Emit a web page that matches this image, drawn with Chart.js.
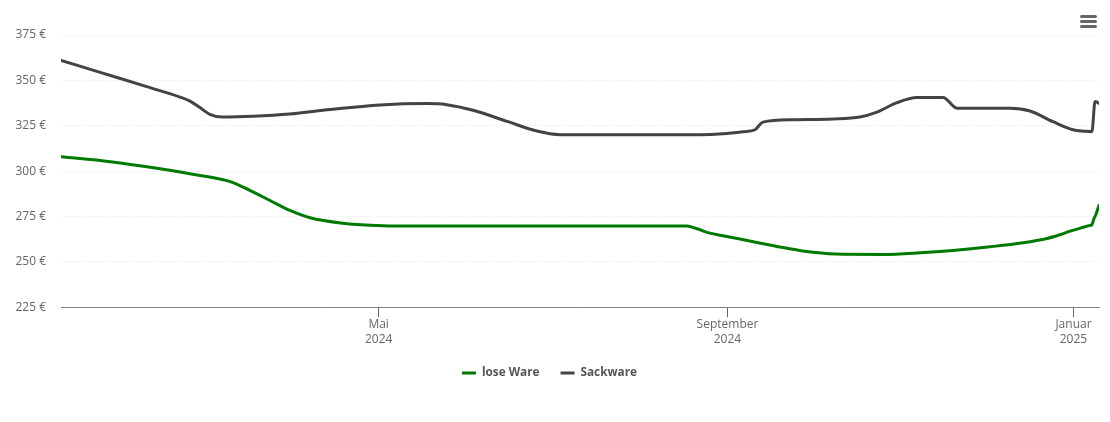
<!DOCTYPE html>
<html>
<head>
<meta charset="utf-8">
<script src="https://cdn.jsdelivr.net/npm/chart.js@4"></script>
<style>
html, body { margin: 0; padding: 0; background: #fff; }
#wrap { width: 1110px; height: 422px; position: relative; }
</style>
</head>
<body>
<div id="wrap"><canvas id="chart"></canvas></div>
<script>
// days counted from 10 Jan 2024
const looseDays = [0, 17.3, 34.9, 49, 59.6, 66.6, 73.7, 80.7, 87.8, 99.4, 111.4, 119.5, 214.7, 220.7, 224.3, 228.8, 233.4, 245.4, 256, 265.2, 275.7, 289.8, 302.9, 314.5, 327.6, 339.2, 347.7, 351.9, 355.8, 359.7, 363.1, 363.5, 364.2, 364.9, 366];
const looseValues = [307.9, 305.2, 301.3, 297.6, 294.2, 289.4, 283.8, 278.3, 274.3, 271.3, 270, 269.7, 269.7, 269.7, 268.2, 265.8, 264.4, 260.7, 257.5, 255.3, 254.2, 254.1, 255, 256.3, 258.3, 260.5, 262.9, 264.8, 266.9, 268.7, 270.2, 270.4, 273.7, 276.1, 281.1];
const sackDays = [0, 13.8, 31.4, 42, 45.5, 49, 52.5, 56.8, 67.7, 80.7, 94.9, 112.5, 129, 136, 145.3, 157.3, 167.8, 176, 190, 225.3, 233.4, 240.5, 244.7, 247.5, 258.1, 272.2, 281.7, 287.7, 294.8, 301.8, 311, 315.9, 334.6, 341.7, 349.8, 356.8, 361, 363.5, 364.6, 366];
const sackValues = [361, 354.4, 346, 340.8, 338.6, 335, 331.3, 329.8, 330.2, 331.4, 333.9, 336.4, 337.2, 336.6, 333.5, 327.4, 322.1, 320.1, 320, 320.1, 320.6, 321.7, 322.8, 327, 328.3, 328.7, 329.8, 332.5, 337.7, 340.5, 340.6, 334.7, 334.6, 333.1, 327.2, 322.8, 322, 321.7, 338.4, 337.3];
const xTickDays = [112, 235, 357];
const xTickLabels = [['Mai', '2024'], ['September', '2024'], ['Januar', '2025']];

const toPoints = (days, values) => days.map((d, i) => ({ x: d, y: values[i] }));

// burger menu top right
const menuIcon = {
    id: 'menuIcon',
    afterDraw(chart) {
        const c = chart.ctx;
        c.save();
        c.strokeStyle = '#666';
        c.lineWidth = 3;
        c.lineCap = 'round';
        [16.5, 21.5, 26.5].forEach(y => {
            c.beginPath();
            c.moveTo(1081.5, y);
            c.lineTo(1095.5, y);
            c.stroke();
        });
        c.restore();
    }
};

Chart.defaults.font.family = '"Open Sans", sans-serif';
Chart.defaults.font.size = 12;

new Chart(document.getElementById('chart'), {
    type: 'line',
    data: {
        datasets: [
            { label: 'lose Ware', data: toPoints(looseDays, looseValues), borderColor: '#007a00', backgroundColor: '#007a00', borderWidth: 3, borderCapStyle: 'round' },
            { label: 'Sackware', data: toPoints(sackDays, sackValues), borderColor: '#434343', backgroundColor: '#434343', borderWidth: 3, borderCapStyle: 'round' }
        ]
    },
    plugins: [menuIcon],
    options: {
        responsive: true,
        maintainAspectRatio: false,
        animation: false,
        elements: { point: { radius: 0 }, line: { cubicInterpolationMode: 'monotone' } },
        layout: { padding: { top: 35, right: 11, bottom: 33 } },
        scales: {
            x: {
                type: 'linear',
                min: 0,
                max: 366,
                afterBuildTicks: axis => { axis.ticks = xTickDays.map(v => ({ value: v })); },
                afterFit: axis => { axis.height = 39; },
                border: { color: '#808080', width: 1 },
                grid: { drawOnChartArea: false, tickLength: 10, tickColor: '#666', tickWidth: 1 },
                ticks: {
                    color: '#666',
                    maxRotation: 0,
                    padding: 0,
                    font: { size: 12, lineHeight: 1.25 },
                    callback: value => xTickLabels[xTickDays.indexOf(value)]
                }
            },
            y: {
                min: 225,
                max: 375,
                afterFit: axis => { axis.width = 61; },
                border: { display: false, dash: [1, 2] },
                grid: { color: '#e6e6e6', drawTicks: false },
                ticks: {
                    stepSize: 25,
                    color: '#666',
                    padding: 15,
                    font: { size: 12 },
                    callback: value => value + ' €'
                }
            }
        },
        plugins: {
            tooltip: { enabled: false },
            legend: {
                position: 'bottom',
                labels: { usePointStyle: true, pointStyle: 'line', pointStyleWidth: 14, color: '#555', padding: 21, font: { size: 11.8, weight: 'bold' } }
            }
        }
    }
});
</script>
</body>
</html>
